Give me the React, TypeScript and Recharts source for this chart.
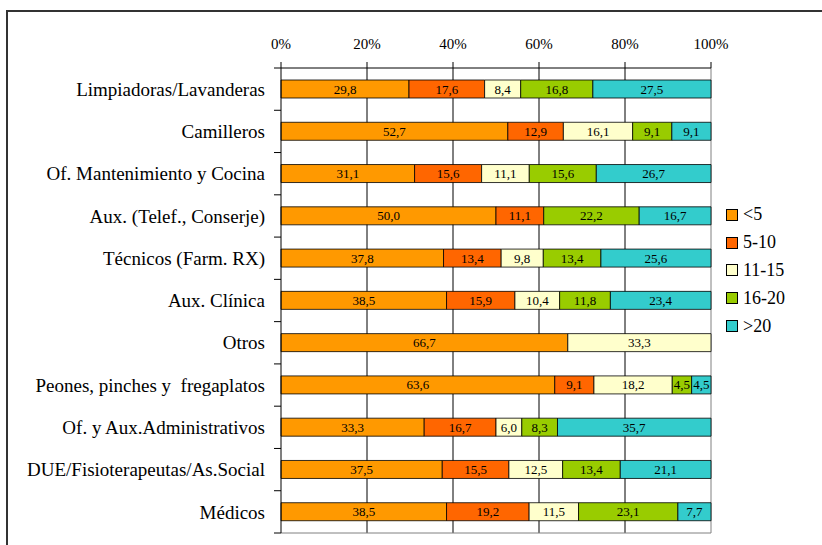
import React from 'react';
import {
  BarChart,
  Bar,
  XAxis,
  YAxis,
  CartesianGrid,
  LabelList,
} from 'recharts';

// ============================================================================
// Data
// ============================================================================

const CATEGORIES = [
  'Limpiadoras/Lavanderas',
  'Camilleros',
  'Of. Mantenimiento y Cocina',
  'Aux. (Telef., Conserje)',
  'Técnicos (Farm. RX)',
  'Aux. Clínica',
  'Otros',
  'Peones, pinches y  fregaplatos',
  'Of. y Aux.Administrativos',
  'DUE/Fisioterapeutas/As.Social',
  'Médicos',
];

const LT5 = [29.8, 52.7, 31.1, 50.0, 37.8, 38.5, 66.7, 63.6, 33.3, 37.5, 38.5];
const R5_10 = [17.6, 12.9, 15.6, 11.1, 13.4, 15.9, 0, 9.1, 16.7, 15.5, 19.2];
const R11_15 = [8.4, 16.1, 11.1, 0, 9.8, 10.4, 33.3, 18.2, 6.0, 12.5, 11.5];
const R16_20 = [16.8, 9.1, 15.6, 22.2, 13.4, 11.8, 0, 4.5, 8.3, 13.4, 23.1];
const GT20 = [27.5, 9.1, 26.7, 16.7, 25.6, 23.4, 0, 4.5, 35.7, 21.1, 7.7];

const X_TICKS = [0, 0.2, 0.4, 0.6, 0.8, 1];

const SERIES = [
  { key: 'lt5', name: '<5', values: LT5, color: '#FF9900' },
  { key: 'r5_10', name: '5-10', values: R5_10, color: '#FF6600' },
  { key: 'r11_15', name: '11-15', values: R11_15, color: '#FFFFCC' },
  { key: 'r16_20', name: '16-20', values: R16_20, color: '#99CC00' },
  { key: 'gt20', name: '>20', values: GT20, color: '#33CCCC' },
];

// ============================================================================
// Layout
// ============================================================================

const WIDTH = 822;
const HEIGHT = 545;
const FONT = '"Liberation Serif", "Times New Roman", serif';
const MARGIN = { top: 38, right: 111, left: 11, bottom: 12 };
const X_AXIS_HEIGHT = 30;
const Y_AXIS_WIDTH = 270;

const PLOT_LEFT = MARGIN.left + Y_AXIS_WIDTH;
const PLOT_TOP = MARGIN.top + X_AXIS_HEIGHT;
const PLOT_W = WIDTH - PLOT_LEFT - MARGIN.right;
const PLOT_H = HEIGHT - PLOT_TOP - MARGIN.bottom;
const BAND = PLOT_H / CATEGORIES.length;

const chartData = CATEGORIES.map((name, i) => {
  const row: Record<string, string | number> = { name };
  SERIES.forEach((s) => {
    row[s.key] = s.values[i];
  });
  return row;
});

// ============================================================================
// Pieces
// ============================================================================

const CategoryTick = (props: any) => {
  const { y, payload, index } = props;
  const last = index === CATEGORIES.length - 1;
  return (
    <g>
      <line x1={PLOT_LEFT - 7} x2={PLOT_LEFT} y1={y - BAND / 2} y2={y - BAND / 2} stroke="#000" />
      {last && (
        <line x1={PLOT_LEFT - 7} x2={PLOT_LEFT} y1={y + BAND / 2} y2={y + BAND / 2} stroke="#000" />
      )}
      <text
        x={PLOT_LEFT - 16}
        y={y}
        dy="0.35em"
        textAnchor="end"
        fontSize={19}
        fontFamily={FONT}
        fill="#000"
        style={{ whiteSpace: 'pre' }}
      >
        {payload.value}
      </text>
    </g>
  );
};

const TopTick = (props: any) => {
  const { x, y, payload } = props;
  return (
    <text
      x={x}
      y={y}
      textAnchor="middle"
      fontSize={15}
      fontFamily={FONT}
      fill="#000"
    >
      {`${Math.round(payload.value * 100)}%`}
    </text>
  );
};

const renderValueLabel = (props: any) => {
  const { x, y, width, height, value } = props;
  if (!value) return null;
  return (
    <text
      x={x + width / 2}
      y={y + height / 2}
      dy="0.35em"
      textAnchor="middle"
      fontSize={13}
      fontFamily={FONT}
      fill="#000"
    >
      {Number(value).toFixed(1).replace('.', ',')}
    </text>
  );
};

const LegendBox = () => (
  <div
    style={{
      position: 'absolute',
      left: 726,
      top: 201,
      fontFamily: FONT,
      fontSize: 18,
      color: '#000',
    }}
  >
    {SERIES.map((s) => (
      <div key={s.key} style={{ display: 'flex', alignItems: 'center', height: 27.8 }}>
        <div
          style={{
            width: 10,
            height: 10,
            background: s.color,
            border: '1px solid #000',
            marginRight: 5,
          }}
        />
        <span>{s.name}</span>
      </div>
    ))}
  </div>
);

// ============================================================================
// Component
// ============================================================================

export default function App() {
  return (
    <div
      style={{
        position: 'absolute',
        left: 0,
        top: 0,
        width: WIDTH,
        height: HEIGHT,
        background: '#fff',
        overflow: 'hidden',
      }}
    >
      <div
        style={{
          position: 'absolute',
          left: 6,
          top: 10,
          width: WIDTH + 20,
          height: HEIGHT + 20,
          border: '2px solid #333',
        }}
      />
      <div style={{ position: 'absolute', left: 0, top: 0 }}>
        <BarChart
          width={WIDTH}
          height={HEIGHT}
          data={chartData}
          layout="vertical"
          stackOffset="expand"
          margin={MARGIN}
          barSize={18}
        >
          <CartesianGrid
            horizontal={false}
            stroke="#000"
            verticalPoints={[0.2, 0.4, 0.6, 0.8].map((f) => PLOT_LEFT + f * PLOT_W)}
          />
          <CartesianGrid
            stroke="#808080"
            verticalPoints={[PLOT_LEFT + PLOT_W]}
            horizontalPoints={[PLOT_TOP + PLOT_H]}
          />
          <XAxis
            type="number"
            orientation="top"
            domain={[0, 1]}
            ticks={X_TICKS}
            height={X_AXIS_HEIGHT}
            tickSize={6}
            tickMargin={13}
            axisLine={{ stroke: '#000' }}
            tickLine={{ stroke: '#000' }}
            tick={TopTick}
            interval={0}
          />
          <YAxis
            type="category"
            dataKey="name"
            width={Y_AXIS_WIDTH}
            interval={0}
            axisLine={{ stroke: '#000' }}
            tickLine={false}
            tick={CategoryTick}
          />
          {SERIES.map((s) => (
            <Bar
              key={s.key}
              dataKey={s.key}
              name={s.name}
              stackId="a"
              fill={s.color}
              stroke="#000"
              strokeWidth={0.8}
              isAnimationActive={false}
            >
              <LabelList dataKey={s.key} content={renderValueLabel} />
            </Bar>
          ))}
        </BarChart>
      </div>
      <LegendBox />
    </div>
  );
}
